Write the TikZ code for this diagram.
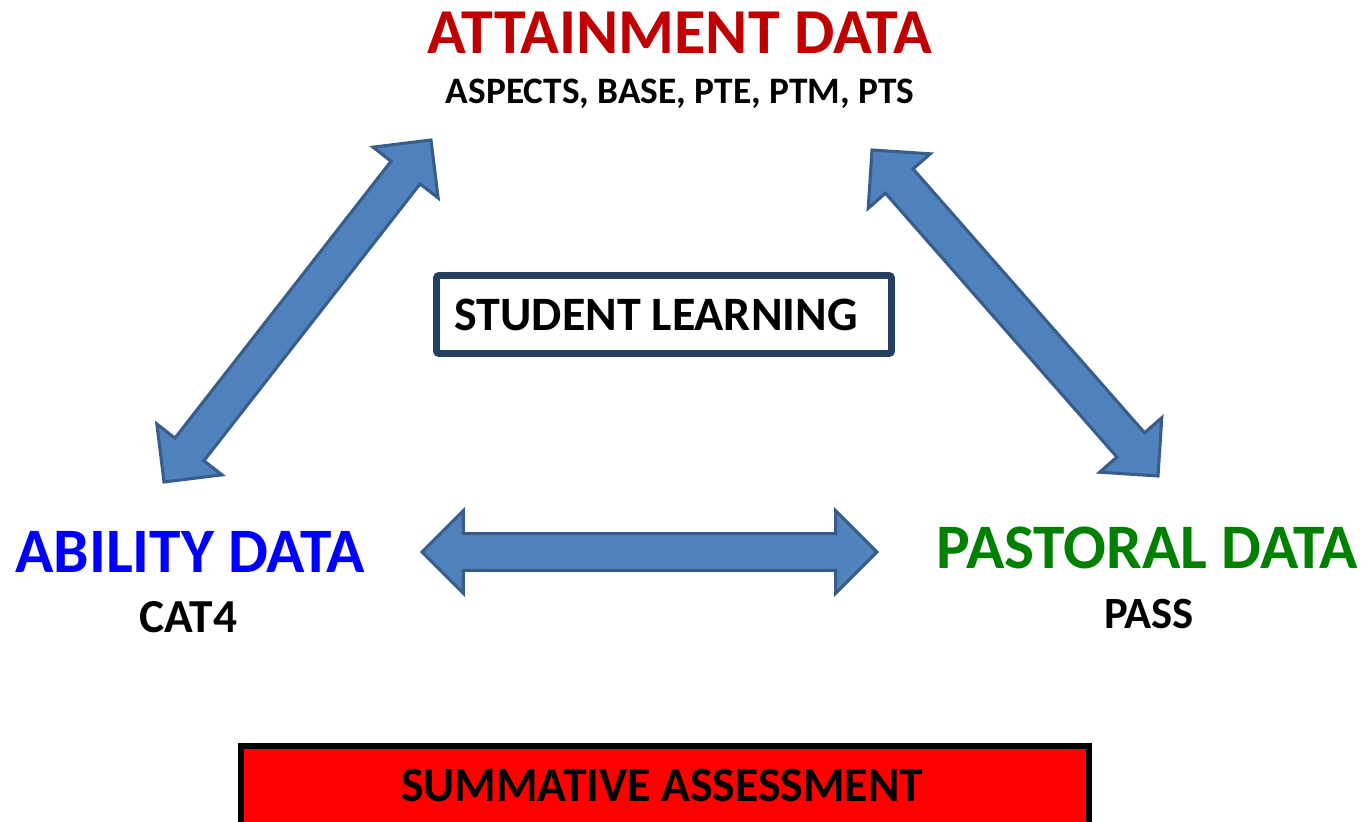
\documentclass[tikz,border=0pt]{standalone}
\usepackage{fontspec}
\setmainfont{Carlito}
\usetikzlibrary{calc}

\definecolor{attainred}{HTML}{C00000}
\definecolor{abilityblue}{HTML}{0000FF}
\definecolor{pastoralgreen}{HTML}{008000}
\definecolor{arrowfill}{HTML}{4F81BD}
\definecolor{arrowline}{HTML}{385D8A}
\definecolor{boxnavy}{HTML}{243F60}
\definecolor{summred}{HTML}{FF0000}

% block arrow geometry: head length, head half-width, shaft half-width
\newcommand\arrhl{31pt}
\newcommand\arrhh{31pt}
\newcommand\arrsh{13.8pt}

% double-headed block arrow between two named coordinates
\newcommand\dblarrow[2]{%
  \draw[blockarrow] (#1)
    -- ($(#1)!\arrhl!(#2)!\arrhh!90:(#2)$)
    -- ($(#1)!\arrhl!(#2)!\arrsh!90:(#2)$)
    -- ($(#2)!\arrhl!(#1)!\arrsh!-90:(#1)$)
    -- ($(#2)!\arrhl!(#1)!\arrhh!-90:(#1)$)
    -- (#2)
    -- ($(#2)!\arrhl!(#1)!\arrhh!90:(#1)$)
    -- ($(#2)!\arrhl!(#1)!\arrsh!90:(#1)$)
    -- ($(#1)!\arrhl!(#2)!\arrsh!-90:(#2)$)
    -- ($(#1)!\arrhl!(#2)!\arrhh!-90:(#2)$)
    -- cycle;}

\tikzset{
  blockarrow/.style={fill=arrowfill, draw=arrowline, line width=2.3pt, line join=miter},
  txt/.style={anchor=base, inner sep=0pt, font=\bfseries},
  heading/.style={txt, font=\bfseries\fontsize{47.5}{47.5}\selectfont},
}

\begin{document}
\begin{tikzpicture}[x=0.75pt, y=-0.75pt]
  \useasboundingbox (0,0) rectangle (1366,821);

  % headings
  \node[heading, text=attainred, font=\bfseries\fontsize{48}{48}\selectfont] (att) at (680,53) {ATTAINMENT DATA};
  \node[txt, font=\bfseries\fontsize{28}{28}\selectfont] (attsub) at (680,103) {ASPECTS, BASE, PTE, PTM, PTS};
  \node[heading, text=abilityblue] (abi) at (190,572) {ABILITY DATA};
  \node[txt, font=\bfseries\fontsize{35.5}{35.5}\selectfont] (abisub) at (188.5,632) {CAT4};
  \node[heading, text=pastoralgreen] (pas) at (1147.5,568) {PASTORAL DATA};
  \node[txt, font=\bfseries\fontsize{33.5}{33.5}\selectfont] (passub) at (1149,628) {PASS};

  % central box
  \draw[boxnavy, line width=5.2pt, rounded corners=2pt, fill=white] (436.5,275.5) rectangle (891.5,353.5);
  \node[txt, font=\bfseries\fontsize{36}{36}\selectfont] (stu) at (656,330) {STUDENT LEARNING};

  % arrows
  \coordinate (la) at (164,482);
  \coordinate (lb) at (431,140);
  \coordinate (ra) at (872,150);
  \coordinate (rb) at (1158,476);
  \coordinate (ha) at (422,552);
  \coordinate (hb) at (877,552);
  \dblarrow{la}{lb}
  \dblarrow{ra}{rb}
  \dblarrow{ha}{hb}

  % bottom banner
  \draw[black, line width=4.5pt, fill=summred] (241,746) rectangle (1089,840);
  \node[txt] (sum) at (662,801) {\fontsize{37}{37}\selectfont\scalebox{0.965}[1]{SUMMATIVE ASSESSMENT}};
\end{tikzpicture}
\end{document}
